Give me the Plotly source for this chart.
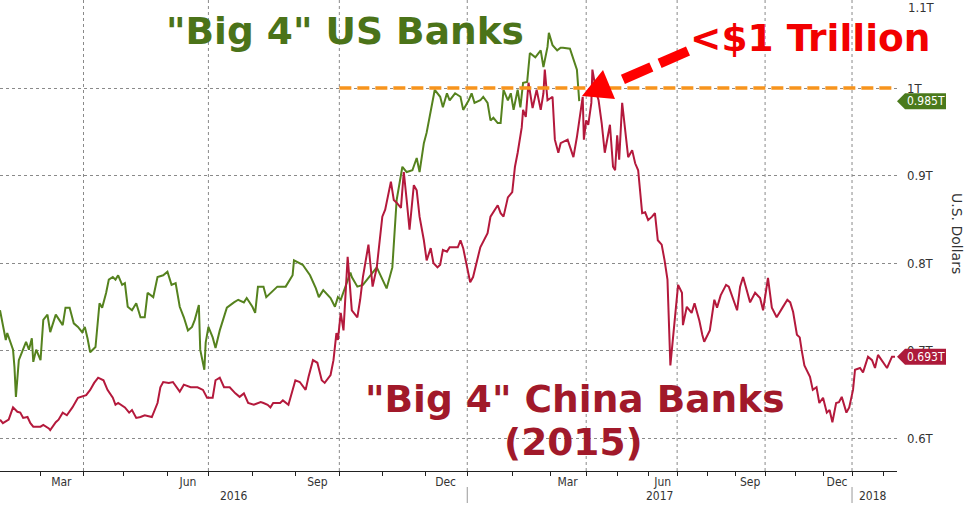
import numpy as np
import pandas as pd
import plotly.graph_objects as go

# ---------------- data (trillion USD) ----------------
US_DATES = [
    "2016-02-02", "2016-02-06", "2016-02-07", "2016-02-11", "2016-02-12", "2016-02-13", "2016-02-15",
    "2016-02-18", "2016-02-20", "2016-02-22", "2016-02-24", "2016-02-25", "2016-02-27",
    "2016-03-01", "2016-03-03", "2016-03-06", "2016-03-08", "2016-03-12", "2016-03-17", "2016-03-19",
    "2016-03-22", "2016-03-25", "2016-03-28", "2016-03-31",
    "2016-04-02", "2016-04-04", "2016-04-06", "2016-04-10", "2016-04-13", "2016-04-15", "2016-04-18",
    "2016-04-20", "2016-04-23", "2016-04-25", "2016-04-27", "2016-04-30",
    "2016-05-02", "2016-05-04", "2016-05-07", "2016-05-10", "2016-05-13", "2016-05-16", "2016-05-18",
    "2016-05-22", "2016-05-25", "2016-05-29",
    "2016-06-01", "2016-06-04", "2016-06-07", "2016-06-10", "2016-06-13", "2016-06-16", "2016-06-19",
    "2016-06-21", "2016-06-24", "2016-06-25", "2016-06-28", "2016-06-29",
    "2016-07-01", "2016-07-04", "2016-07-06", "2016-07-09", "2016-07-14", "2016-07-19", "2016-07-22",
    "2016-07-26", "2016-07-28",
    "2016-08-01", "2016-08-03", "2016-08-05", "2016-08-09", "2016-08-11", "2016-08-15", "2016-08-19",
    "2016-08-25", "2016-08-30", "2016-08-31",
    "2016-09-06", "2016-09-11", "2016-09-15", "2016-09-17", "2016-09-20", "2016-09-25", "2016-09-28",
    "2016-09-30",
    "2016-10-02", "2016-10-09", "2016-10-10", "2016-10-14", "2016-10-18", "2016-10-28",
    "2016-11-04", "2016-11-08", "2016-11-11", "2016-11-15", "2016-11-18", "2016-11-22", "2016-11-25",
    "2016-11-27", "2016-11-30",
    "2016-12-02", "2016-12-05", "2016-12-08", "2016-12-12", "2016-12-14", "2016-12-17", "2016-12-19",
    "2016-12-23", "2016-12-27", "2016-12-29",
    "2017-01-02", "2017-01-04", "2017-01-06", "2017-01-10", "2017-01-12", "2017-01-15", "2017-01-17",
    "2017-01-19", "2017-01-22", "2017-01-24", "2017-01-26", "2017-01-29", "2017-01-31",
    "2017-02-02", "2017-02-05", "2017-02-07", "2017-02-09", "2017-02-12", "2017-02-14", "2017-02-18",
    "2017-02-22", "2017-02-24", "2017-02-27", "2017-02-28",
    "2017-03-03", "2017-03-07", "2017-03-10", "2017-03-12", "2017-03-18", "2017-03-24", "2017-03-26",
]
US_VALUES = [
    0.746, 0.712, 0.720, 0.701, 0.681, 0.647, 0.689,
    0.701, 0.710, 0.701, 0.714, 0.687, 0.701,
    0.689, 0.735, 0.741, 0.721, 0.741, 0.729, 0.749,
    0.749, 0.731, 0.727, 0.721,
    0.727, 0.714, 0.698, 0.704, 0.754, 0.749, 0.766,
    0.781, 0.784, 0.781, 0.786, 0.775,
    0.777, 0.750, 0.746, 0.754, 0.738, 0.738, 0.766,
    0.761, 0.784, 0.786,
    0.790, 0.775, 0.777, 0.750, 0.738, 0.723, 0.727,
    0.735, 0.752, 0.701, 0.678, 0.709,
    0.727, 0.715, 0.703, 0.723, 0.749, 0.755, 0.758,
    0.755, 0.760,
    0.750, 0.743, 0.773, 0.773, 0.761, 0.767, 0.773,
    0.773, 0.786, 0.803,
    0.798, 0.786, 0.771, 0.761, 0.769, 0.760, 0.750,
    0.761,
    0.758, 0.789, 0.784, 0.773, 0.775, 0.795,
    0.771, 0.795, 0.872, 0.910, 0.904, 0.906, 0.920,
    0.904, 0.937,
    0.949, 0.975, 0.998, 0.990, 0.978, 0.994, 0.986,
    0.994, 0.990, 0.975,
    0.986, 0.994, 0.983, 0.986, 0.990, 0.983, 0.963,
    0.966, 0.960, 0.960, 0.998, 0.986, 0.994,
    0.975, 0.998, 0.978, 1.006, 1.007, 1.040, 1.035,
    1.043, 1.024, 1.047, 1.063,
    1.049, 1.043, 1.046, 1.046, 1.045, 1.021, 0.985,
]

CN_DATES = [
    "2016-02-02", "2016-02-04", "2016-02-08", "2016-02-11", "2016-02-14", "2016-02-16", "2016-02-18",
    "2016-02-21", "2016-02-23", "2016-02-25",
    "2016-03-01", "2016-03-03", "2016-03-07", "2016-03-08", "2016-03-12", "2016-03-14", "2016-03-17",
    "2016-03-20", "2016-03-24", "2016-03-26", "2016-03-28",
    "2016-04-03", "2016-04-06", "2016-04-09", "2016-04-12", "2016-04-16", "2016-04-19", "2016-04-23",
    "2016-04-25", "2016-04-27",
    "2016-05-02", "2016-05-05", "2016-05-07", "2016-05-10", "2016-05-13", "2016-05-16", "2016-05-21",
    "2016-05-25", "2016-05-27", "2016-05-29",
    "2016-06-02", "2016-06-05", "2016-06-08", "2016-06-10", "2016-06-13", "2016-06-18", "2016-06-23",
    "2016-06-27", "2016-06-30",
    "2016-07-04", "2016-07-06", "2016-07-09", "2016-07-12", "2016-07-16", "2016-07-20", "2016-07-23",
    "2016-07-26", "2016-07-29",
    "2016-08-02", "2016-08-07", "2016-08-09", "2016-08-12", "2016-08-14", "2016-08-16", "2016-08-21",
    "2016-08-23", "2016-08-27", "2016-08-30",
    "2016-09-01", "2016-09-04", "2016-09-08", "2016-09-10", "2016-09-13", "2016-09-16", "2016-09-19",
    "2016-09-21", "2016-09-25", "2016-09-27", "2016-09-29", "2016-09-30",
    "2016-10-02", "2016-10-04", "2016-10-07", "2016-10-10", "2016-10-14", "2016-10-16", "2016-10-18",
    "2016-10-22", "2016-10-25", "2016-10-28",
    "2016-11-01", "2016-11-03", "2016-11-07", "2016-11-09", "2016-11-11", "2016-11-14", "2016-11-16",
    "2016-11-18", "2016-11-20", "2016-11-23", "2016-11-25", "2016-11-27", "2016-11-30",
    "2016-12-02", "2016-12-05", "2016-12-07", "2016-12-10", "2016-12-12", "2016-12-14", "2016-12-17",
    "2016-12-19", "2016-12-25", "2016-12-27", "2016-12-29",
    "2017-01-01", "2017-01-03", "2017-01-05", "2017-01-08", "2017-01-10", "2017-01-15", "2017-01-17",
    "2017-01-22", "2017-01-24", "2017-01-26", "2017-01-29",
    "2017-02-01", "2017-02-03", "2017-02-05", "2017-02-08", "2017-02-09", "2017-02-11", "2017-02-13",
    "2017-02-14", "2017-02-16", "2017-02-19", "2017-02-22", "2017-02-24", "2017-02-25", "2017-02-27",
    "2017-03-03", "2017-03-05", "2017-03-08", "2017-03-10", "2017-03-16", "2017-03-18", "2017-03-21",
    "2017-03-24", "2017-03-29", "2017-03-30",
    "2017-04-01", "2017-04-03", "2017-04-06", "2017-04-07", "2017-04-11", "2017-04-13", "2017-04-16",
    "2017-04-19", "2017-04-24", "2017-04-27", "2017-04-29",
    "2017-05-01", "2017-05-03", "2017-05-06", "2017-05-09", "2017-05-12", "2017-05-16", "2017-05-19",
    "2017-05-22", "2017-05-26", "2017-05-29",
    "2017-06-01", "2017-06-05", "2017-06-08", "2017-06-11", "2017-06-15", "2017-06-18", "2017-06-21",
    "2017-06-24", "2017-06-28",
    "2017-07-02", "2017-07-06", "2017-07-07", "2017-07-11", "2017-07-16", "2017-07-19", "2017-07-24",
    "2017-07-27", "2017-07-29",
    "2017-08-04", "2017-08-09", "2017-08-12", "2017-08-16", "2017-08-22", "2017-08-25",
    "2017-09-03", "2017-09-06", "2017-09-09", "2017-09-13", "2017-09-16", "2017-09-21", "2017-09-26",
    "2017-09-29",
    "2017-10-04", "2017-10-08", "2017-10-13", "2017-10-19", "2017-10-24", "2017-10-27", "2017-10-30",
    "2017-11-03", "2017-11-06", "2017-11-08", "2017-11-11", "2017-11-17", "2017-11-20", "2017-11-24",
    "2017-11-27",
    "2017-12-01", "2017-12-05", "2017-12-08", "2017-12-11", "2017-12-15", "2017-12-18", "2017-12-21",
    "2017-12-26", "2017-12-29",
    "2018-01-02", "2018-01-04", "2018-01-09", "2018-01-12", "2018-01-17", "2018-01-21", "2018-01-24",
    "2018-01-27",
    "2018-02-01", "2018-02-05", "2018-02-10", "2018-02-13",
]
CN_VALUES = [
    0.621, 0.617, 0.621, 0.635, 0.630, 0.629, 0.623,
    0.624, 0.617, 0.613,
    0.613, 0.615, 0.611, 0.609, 0.618, 0.621, 0.629,
    0.626, 0.635, 0.640, 0.646,
    0.649, 0.655, 0.663, 0.669, 0.666, 0.655, 0.646,
    0.638, 0.640,
    0.635, 0.629, 0.632, 0.623, 0.624, 0.626, 0.624,
    0.640, 0.658, 0.664,
    0.663, 0.664, 0.658, 0.653, 0.661, 0.658, 0.658,
    0.655, 0.646,
    0.646, 0.666, 0.669, 0.658, 0.658, 0.651, 0.647,
    0.651, 0.640,
    0.638, 0.641, 0.640, 0.638, 0.635, 0.640, 0.640,
    0.643, 0.638, 0.655,
    0.666, 0.664, 0.655, 0.670, 0.689, 0.686, 0.666,
    0.663, 0.672, 0.689, 0.720, 0.712,
    0.743, 0.723, 0.807, 0.746, 0.738, 0.758, 0.784,
    0.821, 0.773, 0.795,
    0.853, 0.861, 0.893, 0.872, 0.869, 0.863, 0.904,
    0.872, 0.838, 0.889, 0.883, 0.853, 0.826,
    0.803, 0.817, 0.800, 0.795, 0.798, 0.815, 0.813,
    0.818, 0.818, 0.826, 0.817,
    0.795, 0.778, 0.784, 0.806, 0.818, 0.834, 0.853,
    0.866, 0.857, 0.853, 0.875,
    0.881, 0.910, 0.926, 0.955, 0.975, 0.967, 1.006,
    0.995, 0.977, 0.998, 0.975, 0.994, 1.021, 0.986,
    0.990, 0.941, 0.926, 0.937, 0.941, 0.933, 0.921,
    0.944, 0.990, 0.941,
    0.963, 0.958, 0.983, 1.021, 0.994, 0.986, 0.960,
    0.926, 0.958, 0.910, 0.906,
    0.946, 0.918, 0.983, 0.955, 0.921, 0.929, 0.914,
    0.906, 0.857, 0.858,
    0.849, 0.853, 0.857, 0.826, 0.821, 0.803, 0.781,
    0.683, 0.727,
    0.775, 0.766, 0.729, 0.750, 0.743, 0.754, 0.734,
    0.718, 0.710,
    0.723, 0.758, 0.749, 0.763, 0.775, 0.773,
    0.746, 0.773, 0.784, 0.766, 0.755, 0.766, 0.760,
    0.746,
    0.783, 0.749, 0.738, 0.749, 0.758, 0.755, 0.744,
    0.718, 0.715, 0.701, 0.683, 0.670, 0.655, 0.658,
    0.640,
    0.646, 0.629, 0.632, 0.618, 0.640, 0.641, 0.647,
    0.629, 0.635,
    0.655, 0.678, 0.680, 0.675, 0.693, 0.689, 0.680,
    0.695,
    0.686, 0.680, 0.693, 0.693,
]
assert len(US_DATES) == len(US_VALUES) and len(CN_DATES) == len(CN_VALUES)

THRESHOLD_VALUE = 1.0
THRESHOLD_DATES = ["2016-10-01", "2018-02-15"]
X_START, X_END = "2016-02-02", "2018-02-15"
Y_TICK_VALUES = [0.6, 0.7, 0.8, 0.9, 1.0]
Y_TICK_LABELS = ["0.6T", "0.7T", "0.8T", "0.9T", "1T"]
Y_TOP_LABEL = "1.1T"
MONTH_LABELS = ["Mar", "Jun", "Sep", "Dec", "Mar", "Jun", "Sep", "Dec"]
MONTH_LABEL_DATES = ["2016-03-16", "2016-06-16", "2016-09-16", "2016-12-16",
                     "2017-03-16", "2017-06-16", "2017-09-16", "2017-12-16"]
YEAR_LABELS = ["2016", "2017", "2018"]
YEAR_STARTS = ["2017-01-01", "2018-01-01"]
QUARTER_STARTS = ["2016-04-01", "2016-07-01", "2016-10-01", "2017-01-01",
                  "2017-04-01", "2017-07-01", "2017-10-01", "2018-01-01"]

# ------------- the source chart's (uneven) time scale: month starts -> axis units -------------
SCALE_MONTHS = pd.date_range("2016-01-01", "2018-03-01", freq="MS")
SCALE_POS = [-45, -2, 40, 83, 123, 167, 208, 252, 295, 339, 382, 425,
             467, 512, 550, 586, 617, 648, 677, 707, 735, 765, 795, 823,
             852, 883, 911]


def tpos(dates):
    d = pd.to_datetime(pd.Index(dates)).values.astype("datetime64[D]").astype(np.int64)
    m = SCALE_MONTHS.values.astype("datetime64[D]").astype(np.int64)
    return np.interp(d, m, SCALE_POS)


# ---------------- layout geometry ----------------
W, H = 969, 506
ML, MR, MT, MB = 0, 72, 0, 35
PW, PH = W - ML - MR, H - MT - MB


def fx(px):  # figure pixel -> paper x
    return (px - ML) / PW


def fy(py):  # figure pixel -> paper y
    return 1 - (py - MT) / PH


GREEN = "#55821e"
RED = "#b4193c"
ORANGE = "#f7941d"
GRID = "#8a8a8a"
TXT = "#333333"
COND = "DejaVu Sans Condensed, Liberation Sans Narrow, DejaVu Sans, sans-serif"
TITLE_FONT = "DejaVu Sans"

x0, x1 = tpos([X_START, X_END])

fig = go.Figure()
fig.add_trace(go.Scatter(x=tpos(US_DATES), y=US_VALUES, mode="lines",
                         line=dict(color=GREEN, width=2), name='"Big 4" US Banks'))
fig.add_trace(go.Scatter(x=tpos(CN_DATES), y=CN_VALUES, mode="lines",
                         line=dict(color=RED, width=2), name='"Big 4" China Banks (2015)'))
fig.add_trace(go.Scatter(x=tpos(THRESHOLD_DATES), y=[THRESHOLD_VALUE] * 2, mode="lines",
                         line=dict(color=ORANGE, width=3.5, dash="12px,6px"), name="$1 Trillion"))

shapes = []
for q in tpos(QUARTER_STARTS):
    shapes.append(dict(type="line", xref="x", yref="paper", x0=q, x1=q, y0=0, y1=1,
                       line=dict(color=GRID, width=1, dash="dot"), layer="below"))
for ysep in tpos(YEAR_STARTS):
    shapes.append(dict(type="line", xref="x", yref="paper", x0=ysep, x1=ysep,
                       y0=fy(487), y1=fy(503), line=dict(color="#999999", width=1)))

# last-value tags
for val, col in [(US_VALUES[-1], "#4a7a1c"), (CN_VALUES[-1], "#ad1a3a")]:
    shapes.append(dict(type="path", xref="paper", yref="y", ysizemode="pixel", yanchor=val,
                       path=(f"M {fx(897)},0 L {fx(905)},8 L {fx(946)},8 "
                             f"L {fx(946)},-8 L {fx(905)},-8 Z"),
                       fillcolor=col, line=dict(width=0)))

# dashed red call-out arrow
shapes.append(dict(type="line", xref="paper", yref="paper",
                   x0=fx(688), y0=fy(51), x1=fx(617), y1=fy(82),
                   line=dict(color="#ff0000", width=10, dash="31px,9px")))
shapes.append(dict(type="path", xref="paper", yref="paper",
                   path=(f"M {fx(582)},{fy(96)} L {fx(603)},{fy(70)} "
                         f"L {fx(615)},{fy(99)} Z"),
                   fillcolor="#ff0000", line=dict(width=0)))


def note(text, px, py, size, color, family=TITLE_FONT, bold=True, **kw):
    return dict(text=text, xref="paper", yref="paper", x=fx(px), y=fy(py),
                xanchor=kw.pop("xanchor", "center"), yanchor="middle", showarrow=False,
                font=dict(family=family, size=size, color=color,
                          weight="bold" if bold else "normal"), **kw)


annotations = [
    note('"Big 4" US Banks', 345, 31, 37.5, "#4b7319"),
    note("&lt;$1 Trillion", 810, 38, 37.5, "#f20000"),
    note('"Big 4" China Banks', 575, 399, 37.5, "#a1192a"),
    note("(2015)", 573, 442, 37.5, "#a1192a"),
    note("U.S. Dollars", 957, 233, 14, TXT, bold=False, textangle=90),
    note(Y_TOP_LABEL, 906, 8, 13, TXT, family=COND, bold=False, xanchor="left"),
]
for val in [US_VALUES[-1], CN_VALUES[-1]]:
    annotations.append(dict(text=f"{val:.3f}T", xref="paper", yref="y",
                            x=fx(926), y=val, xanchor="center", yanchor="middle",
                            showarrow=False,
                            font=dict(family=COND, size=12, color="white")))

ys = tpos(YEAR_STARTS)
year_x = [(x0 + ys[0]) / 2, (ys[0] + ys[1]) / 2, ys[1] + 5]
year_anchor = ["center", "center", "left"]
for lab, xx, anc in zip(YEAR_LABELS, year_x, year_anchor):
    annotations.append(dict(text=lab, xref="x", yref="paper", x=xx, y=fy(496),
                            xanchor=anc, yanchor="middle", showarrow=False,
                            font=dict(family=COND, size=12, color=TXT)))

month_starts = tpos(pd.date_range("2016-03-01", "2018-02-01", freq="MS"))

fig.update_layout(
    width=W, height=H,
    margin=dict(l=ML, r=MR, t=MT, b=MB, autoexpand=False),
    paper_bgcolor="white", plot_bgcolor="white",
    showlegend=False,
    shapes=shapes, annotations=annotations,
    xaxis=dict(
        range=[x0, x1], showgrid=False, zeroline=False, automargin=False,
        showline=True, linecolor="#222222", linewidth=1,
        tickmode="array", tickvals=tpos(MONTH_LABEL_DATES), ticktext=MONTH_LABELS,
        ticks="", tickfont=dict(family=COND, size=12, color=TXT),
        minor=dict(tickmode="array", tickvals=month_starts, ticks="outside",
                   ticklen=4, tickcolor="#222222", showgrid=False),
    ),
    yaxis=dict(
        side="right", range=[0.5623, 1.1006], zeroline=False, showline=False,
        automargin=False,
        tickmode="array", tickvals=Y_TICK_VALUES, ticktext=Y_TICK_LABELS,
        showgrid=True, gridcolor=GRID, griddash="dot", gridwidth=1,
        ticks="", ticklabelstandoff=9,
        tickfont=dict(family=COND, size=13, color=TXT),
    ),
)

fig.write_html("out.html", config={"displayModeBar": False},
               post_script="document.body.style.margin='0px';")
